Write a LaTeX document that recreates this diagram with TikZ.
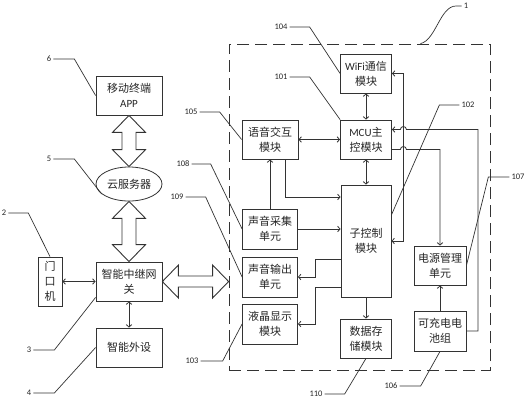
\documentclass[tikz,border=0pt]{standalone}
\usepackage{fontspec}
\setmainfont{Carlito}
\newfontfamily\cjk{Noto Sans CJK SC}
\usetikzlibrary{
	positioning,
	shapes.geometric,
	arrows.meta,
	calc
}

\tikzset{
	box/.style={draw=black!80, line width=0.8pt, text=black!85, align=center,
		inner sep=0pt, font=\cjk\fontsize{11}{15}\selectfont},
	num/.style={text=black!85, inner sep=2pt, font=\fontsize{8.5}{10}\selectfont},
	lead/.style={draw=black!80, line width=0.7pt},
	link/.style={draw=black!80, line width=0.8pt},
	bigarr/.style={draw=black!80, line width=0.9pt, fill=white},
	>={Straight Barb[length=2.5pt,width=5.5pt]}
}

% vertical and horizontal double block arrows
\newcommand\dblarrowv[2]{%
	\draw[bigarr] (#1) -- ($(#1)+(16.5,17)$) -- ($(#1)+(7,17)$) -- ($(#2)+(7,-17)$)
		-- ($(#2)+(16.5,-17)$) -- (#2) -- ($(#2)+(-16.5,-17)$) -- ($(#2)+(-7,-17)$)
		-- ($(#1)+(-7,17)$) -- ($(#1)+(-16.5,17)$) -- cycle;}
\newcommand\dblarrowh[2]{%
	\draw[bigarr] (#1) -- ($(#1)+(16,-16.5)$) -- ($(#1)+(16,-5.5)$) -- ($(#2)+(-16,-5.5)$)
		-- ($(#2)+(-16,-16.5)$) -- (#2) -- ($(#2)+(-16,16.5)$) -- ($(#2)+(-16,5.5)$)
		-- ($(#1)+(16,5.5)$) -- ($(#1)+(16,16.5)$) -- cycle;}

\begin{document}
\begin{tikzpicture}[x=1pt, y=-1pt]
	\path[fill=white, use as bounding box] (0,0) rectangle (526,400);

	% device frame
	\node[draw=black!80, line width=0.8pt, dash pattern=on 12pt off 6pt,
		minimum width=261pt, minimum height=326pt] (dev) at (359.5,207) {};

	% left side
	\node[box, minimum width=66pt, minimum height=39pt] (app) at (129,95.5) {移动终端\\{\rmfamily APP}};
	\node[box, ellipse, minimum width=66pt, minimum height=34pt] (cloud) at (129,184) {云服务器};
	\node[box, minimum width=66pt, minimum height=39pt] (gw) at (129,281.5) {智能中继网\\关};
	\node[box, minimum width=24pt, minimum height=49pt] (door) at (50,281.5) {门\\口\\机};
	\node[box, minimum width=66pt, minimum height=39pt] (ext) at (129,347.5) {智能外设};

	% inside the frame
	\node[box, minimum width=51pt, minimum height=39pt] (wifi) at (366,73.5) {{\rmfamily WiFi}通信\\模块};
	\node[box, minimum width=51pt, minimum height=39pt] (mcu) at (366,139.5) {{\rmfamily MCU}主\\控模块};
	\node[box, minimum width=56pt, minimum height=39pt] (voice) at (270,139.5) {语音交互\\模块};
	\node[box, minimum width=50pt, minimum height=112pt] (sub) at (366,241) {子控制\\模块};
	\node[box, minimum width=55pt, minimum height=40pt] (mic) at (270,229) {声音采集\\单元};
	\node[box, minimum width=55pt, minimum height=40pt] (spk) at (270,277) {声音输出\\单元};
	\node[box, minimum width=55pt, minimum height=40pt] (lcd) at (270,324) {液晶显示\\模块};
	\node[box, minimum width=51pt, minimum height=39pt] (mem) at (366,338.5) {数据存\\储模块};
	\node[box, minimum width=52pt, minimum height=39pt] (pwr) at (440,265.5) {电源管理\\单元};
	\node[box, minimum width=52pt, minimum height=40pt] (bat) at (440,331) {可充电电\\池组};

	% block arrows
	\coordinate (gwr) at (dev.west |- gw.east);
	\dblarrowv{app.south}{cloud.north}
	\dblarrowv{cloud.south}{gw.north}
	\dblarrowh{gw.east}{gwr}

	% connectors
	\draw[link,<->] (door.east) -- (gw.west);
	\draw[link,<->] (gw.south) -- (ext.north);
	\draw[link,<->] (wifi.south) -- (mcu.north);
	\draw[link,<->] (mcu.south) -- (sub.north);
	\draw[link,<->] (voice.east) -- (mcu.west);
	\draw[link,->] (mic.north) -- (voice.south);
	\draw[link,->] ($(voice.south)+(15,0)$) |- ($(sub.west)+(0,-44)$);
	\draw[link,->] (mic.east) -- (mic.east -| sub.west);
	\draw[link,->] ($(sub.west)+(0,18)$) -| ($(spk.east)+(17,0)$) -- (spk.east);
	\draw[link,->] ($(sub.west)+(0,46)$) -| ($(lcd.east)+(17,0)$) -- (lcd.east);
	\draw[link,->] (sub.south) -- (mem.north);
	\draw[link,<->] (sub.east) -- ++(12,0) |- (wifi.east);
	\draw[link,->] (bat.east) -| ($(mcu.east)+(86,-10)$) -- ($(mcu.east)+(14.5,-10)$)
		arc[start angle=0, end angle=-180, radius=3] -- ($(mcu.east)+(0,-10)$);
	\draw[link,->] ($(mcu.east)+(0,10)$) -- ($(mcu.east)+(8.5,10)$)
		arc[start angle=180, end angle=360, radius=3] -| (pwr.north);
	\draw[link,->] (bat.north) -- (pwr.south);

	% reference numerals
	\node[num] (n1) at (466,6) {1};
	\node[num] (n2) at (4,213) {2};
	\node[num] (n3) at (29,350) {3};
	\node[num] (n4) at (29,393) {4};
	\node[num] (n5) at (49,159) {5};
	\node[num] (n6) at (49,59) {6};
	\node[num] (n101) at (281,77) {101};
	\node[num] (n102) at (468,105) {102};
	\node[num] (n103) at (192,361) {103};
	\node[num] (n104) at (281,27) {104};
	\node[num] (n105) at (191,112) {105};
	\node[num] (n106) at (391,386) {106};
	\node[num] (n107) at (518,177) {107};
	\node[num] (n108) at (183,164) {108};
	\node[num] (n109) at (177,197) {109};
	\node[num] (n110) at (316,394) {110};

	\draw[lead] ($(dev.north)+(61,0)$) .. controls (436,40) and (440,6) .. (456,6) -- (n1.west);
	\draw[lead] (n2.east) -- ++(20,0) -- (door.north);
	\draw[lead] (n3.east) -- ++(21,0) -- ($(gw.south west)+(0,-4)$);
	\draw[lead] (n4.east) -- ++(21,0) -- (ext.west);
	\draw[lead] (n5.east) -- ++(21,0) -- (cloud.200);
	\draw[lead] (n6.east) -- ++(21,0) -- (app.west);
	\draw[lead] (n101.east) -- ++(20,0) -- (mcu.north west);
	\draw[lead] (n102.west) -- ++(-20,0) -- ($(sub.east)+(0,-26)$);
	\draw[lead] (n103.east) -- ++(22,0) -- (lcd.west);
	\draw[lead] (n104.east) -- ++(20,0) -- (wifi.west);
	\draw[lead] (n105.east) -- ++(20,0) -- (voice.west);
	\draw[lead] (n106.east) -- ++(21,0) -- (bat.south);
	\draw[lead] (n107.west) -- ++(-21,0) -- (pwr.east);
	\draw[lead] (n108.east) -- ++(19,0) -- (mic.west);
	\draw[lead] (n109.east) -- ++(20,0) -- (spk.west);
	\draw[lead] (n110.east) -- ++(20,0) -- (mem.south);
\end{tikzpicture}
\end{document}
